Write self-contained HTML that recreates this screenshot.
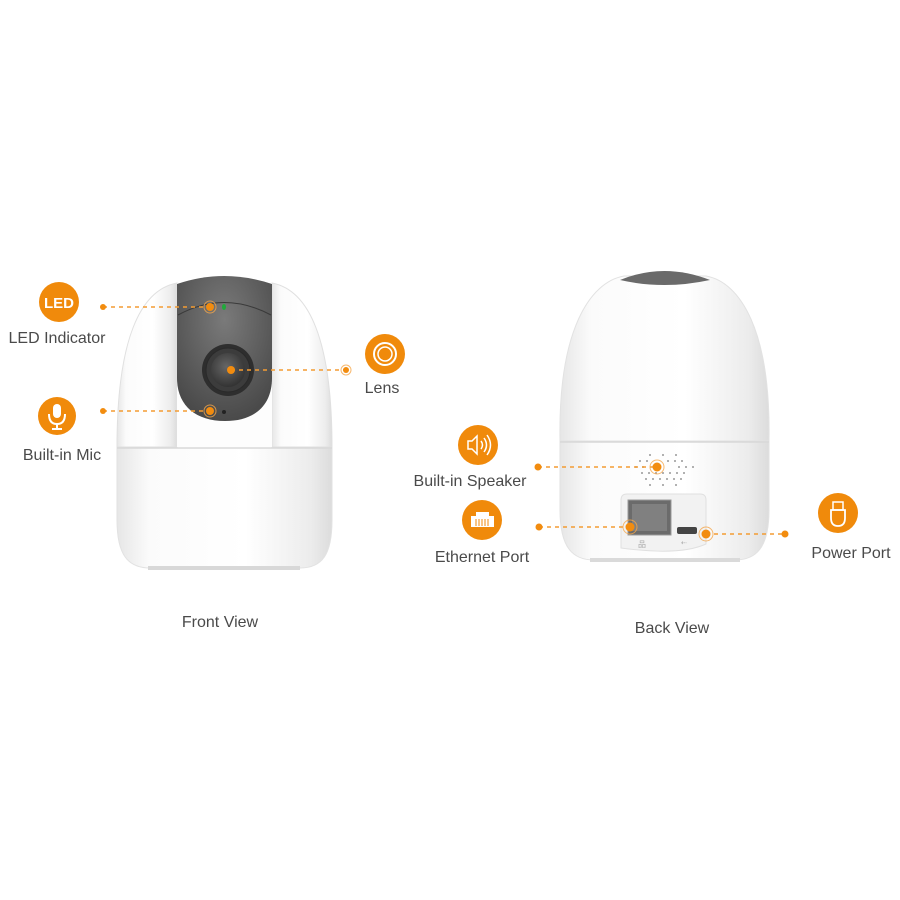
<!DOCTYPE html>
<html><head><meta charset="utf-8"><style>
html,body{margin:0;padding:0;background:#fff;}
svg{display:block}
text{font-family:"Liberation Sans",sans-serif;fill:#4a4a4a;}
</style></head><body>
<svg width="900" height="900" viewBox="0 0 900 900" xmlns="http://www.w3.org/2000/svg">
<defs>
<linearGradient id="wb" x1="0" x2="1" y1="0" y2="0">
<stop offset="0" stop-color="#e6e6e6"/><stop offset="0.15" stop-color="#fbfbfb"/><stop offset="0.6" stop-color="#ffffff"/><stop offset="0.9" stop-color="#ececec"/><stop offset="1" stop-color="#dcdcdc"/></linearGradient>
<radialGradient id="face" cx="0.5" cy="0.3" r="0.7"><stop offset="0" stop-color="#7a7a7a"/><stop offset="1" stop-color="#4a4a4a"/></radialGradient>
<radialGradient id="lens" cx="0.45" cy="0.4" r="0.6"><stop offset="0" stop-color="#666"/><stop offset="1" stop-color="#333"/></radialGradient>
</defs>

<!-- FRONT CAMERA -->
<path d="M117,447 C117,340 140,290 177,283 L177,447 Z" fill="url(#wb)" stroke="#e0e0e0"/>
<path d="M332,447 C332,340 309,290 272,283 L272,447 Z" fill="url(#wb)" stroke="#e0e0e0"/>
<path d="M177,283 L177,447 L272,447 L272,283" fill="#fdfdfd"/>
<path d="M117,448 L332,448 L332,520 C332,555 322,568 300,568 L150,568 C128,568 117,555 117,520 Z" fill="url(#wb)" stroke="#e2e2e2"/>
<line x1="117" y1="448" x2="332" y2="448" stroke="#d8d8d8" stroke-width="1.5"/>
<rect x="148" y="566" width="152" height="4" fill="#d8d8d8"/>
<path d="M177,284 Q224,268 272,284 L272,378 C272,405 255,421 225,421 C195,421 177,405 177,378 Z" fill="url(#face)"/>
<path d="M178,315 Q224,290 271,315" fill="none" stroke="#3a3a3a" stroke-width="1"/>
<circle cx="228" cy="370" r="26" fill="#2e2e2e"/>
<circle cx="228" cy="370" r="22" fill="#3c3c3c" stroke="#2a2a2a"/>
<circle cx="228" cy="370" r="17" fill="url(#lens)"/>
<ellipse cx="224" cy="307" rx="2" ry="3" fill="#1faa3a"/>
<circle cx="224" cy="412" r="2" fill="#222"/>

<!-- BACK CAMERA -->
<path d="M560,441 C558,330 590,282 624,276 L706,276 C740,282 771,330 769,441 Z" fill="url(#wb)" stroke="#e2e2e2"/>
<path d="M620,280 Q664,262 710,280 Q664,290 620,280 Z" fill="#6a6a6a"/>
<path d="M560,442 L769,442 L769,510 C769,548 756,560 735,560 L594,560 C573,560 560,548 560,510 Z" fill="url(#wb)" stroke="#e2e2e2"/>
<line x1="560" y1="442" x2="769" y2="442" stroke="#d8d8d8" stroke-width="1.5"/>
<rect x="590" y="558" width="150" height="4" fill="#dadada"/>
<g fill="#999">
<circle cx="650" cy="455" r="1"/><circle cx="663" cy="455" r="1"/><circle cx="676" cy="455" r="1"/>
<circle cx="640" cy="461" r="1"/><circle cx="647" cy="461" r="1"/><circle cx="668" cy="461" r="1"/><circle cx="675" cy="461" r="1"/><circle cx="682" cy="461" r="1"/>
<circle cx="636" cy="467" r="1"/><circle cx="643" cy="467" r="1"/><circle cx="679" cy="467" r="1"/><circle cx="686" cy="467" r="1"/><circle cx="693" cy="467" r="1"/>
<circle cx="642" cy="473" r="1"/><circle cx="649" cy="473" r="1"/><circle cx="656" cy="473" r="1"/><circle cx="663" cy="473" r="1"/><circle cx="670" cy="473" r="1"/><circle cx="677" cy="473" r="1"/><circle cx="684" cy="473" r="1"/>
<circle cx="646" cy="479" r="1"/><circle cx="653" cy="479" r="1"/><circle cx="660" cy="479" r="1"/><circle cx="667" cy="479" r="1"/><circle cx="674" cy="479" r="1"/><circle cx="681" cy="479" r="1"/>
<circle cx="650" cy="485" r="1"/><circle cx="663" cy="485" r="1"/><circle cx="676" cy="485" r="1"/>
</g>
<path d="M627,494 L700,494 Q706,494 706,500 L706,544 Q680,556 621,548 L621,500 Q621,494 627,494 Z" fill="#f2f2f2" stroke="#e0e0e0"/>
<rect x="628" y="500" width="43" height="35" fill="#6b6b6b" stroke="#999"/>
<rect x="632" y="504" width="35" height="27" fill="#808080"/>
<rect x="677" y="527" width="20" height="7" rx="2" fill="#444"/>
<text x="638" y="547" font-size="8" style="fill:#aaa">品</text>
<text x="681" y="545" font-size="7" style="fill:#aaa">⇠</text>

<!-- connectors -->
<g stroke="#f39c33" stroke-width="1.5" stroke-dasharray="4,4" fill="none">
<line x1="103" y1="307" x2="210" y2="307"/>
<line x1="103" y1="411" x2="210" y2="411"/>
<line x1="231" y1="370" x2="346" y2="370"/>
<line x1="538" y1="467" x2="657" y2="467"/>
<line x1="539" y1="527" x2="630" y2="527"/>
<line x1="706" y1="534" x2="785" y2="534"/>
</g>
<g fill="#f28c0f">
<circle cx="103" cy="307" r="3"/><circle cx="210" cy="307" r="4"/>
<circle cx="103" cy="411" r="3"/><circle cx="210" cy="411" r="4"/>
<circle cx="231" cy="370" r="4"/><circle cx="346" cy="370" r="3"/>
<circle cx="538" cy="467" r="3.5"/><circle cx="657" cy="467" r="4.5"/>
<circle cx="539" cy="527" r="3.5"/><circle cx="630" cy="527" r="4.5"/>
<circle cx="706" cy="534" r="4.5"/><circle cx="785" cy="534" r="3.5"/>
</g>
<g fill="none" stroke="#f5a64a" stroke-width="1" opacity="0.8">
<circle cx="210" cy="307" r="6"/><circle cx="210" cy="411" r="6"/><circle cx="346" cy="370" r="5"/>
<circle cx="657" cy="467" r="7"/><circle cx="630" cy="527" r="7"/><circle cx="706" cy="534" r="7"/>
</g>

<!-- front icons -->
<circle cx="59" cy="302" r="20" fill="#f08a0b"/>
<text x="59" y="308" text-anchor="middle" font-size="15" font-weight="bold" style="fill:#fff">LED</text>
<text x="57" y="343" text-anchor="middle" font-size="16">LED Indicator</text>
<circle cx="57" cy="416" r="19" fill="#f08a0b"/>
<rect x="53" y="404" width="8" height="14" rx="4" fill="#fff"/>
<path d="M49,414 Q49,424 57,424 Q65,424 65,414" fill="none" stroke="#fff" stroke-width="2"/>
<line x1="57" y1="424" x2="57" y2="429" stroke="#fff" stroke-width="2"/><line x1="52" y1="429" x2="62" y2="429" stroke="#fff" stroke-width="2"/>
<text x="62" y="460" text-anchor="middle" font-size="16">Built-in Mic</text>
<circle cx="385" cy="354" r="20" fill="#f08a0b"/>
<circle cx="385" cy="354" r="11" fill="none" stroke="#fff" stroke-width="2"/>
<circle cx="385" cy="354" r="7" fill="none" stroke="#fff" stroke-width="1.5"/>
<text x="382" y="393" text-anchor="middle" font-size="16">Lens</text>
<text x="220" y="627" text-anchor="middle" font-size="16">Front View</text>

<!-- back icons -->
<circle cx="478" cy="445" r="20" fill="#f08a0b"/>
<path d="M468,441 L472,441 L477,436 L477,454 L472,449 L468,449 Z" fill="none" stroke="#fff" stroke-width="1.5"/>
<path d="M481,441 Q484,445 481,449 M484,438 Q489,445 484,452 M487,435 Q494,445 487,455" fill="none" stroke="#fff" stroke-width="1.5"/>
<text x="470" y="486" text-anchor="middle" font-size="16">Built-in Speaker</text>
<circle cx="482" cy="520" r="20" fill="#f08a0b"/>
<rect x="471" y="516" width="23" height="11" fill="#fff"/><rect x="476" y="512" width="13" height="5" fill="#fff"/>
<g stroke="#f08a0b" stroke-width="1"><line x1="476" y1="519" x2="476" y2="526"/><line x1="479" y1="519" x2="479" y2="526"/><line x1="482" y1="519" x2="482" y2="526"/><line x1="485" y1="519" x2="485" y2="526"/><line x1="488" y1="519" x2="488" y2="526"/></g>
<text x="482" y="562" text-anchor="middle" font-size="16">Ethernet Port</text>
<circle cx="838" cy="513" r="20" fill="#f08a0b"/>
<path d="M831,510 L845,510 L845,518 Q845,526 838,526 Q831,526 831,518 Z" fill="none" stroke="#fff" stroke-width="1.8"/>
<rect x="833" y="502" width="10" height="8" fill="none" stroke="#fff" stroke-width="1.5"/>
<text x="851" y="558" text-anchor="middle" font-size="16">Power Port</text>
<text x="672" y="633" text-anchor="middle" font-size="16">Back View</text>
</svg>
</body></html>
